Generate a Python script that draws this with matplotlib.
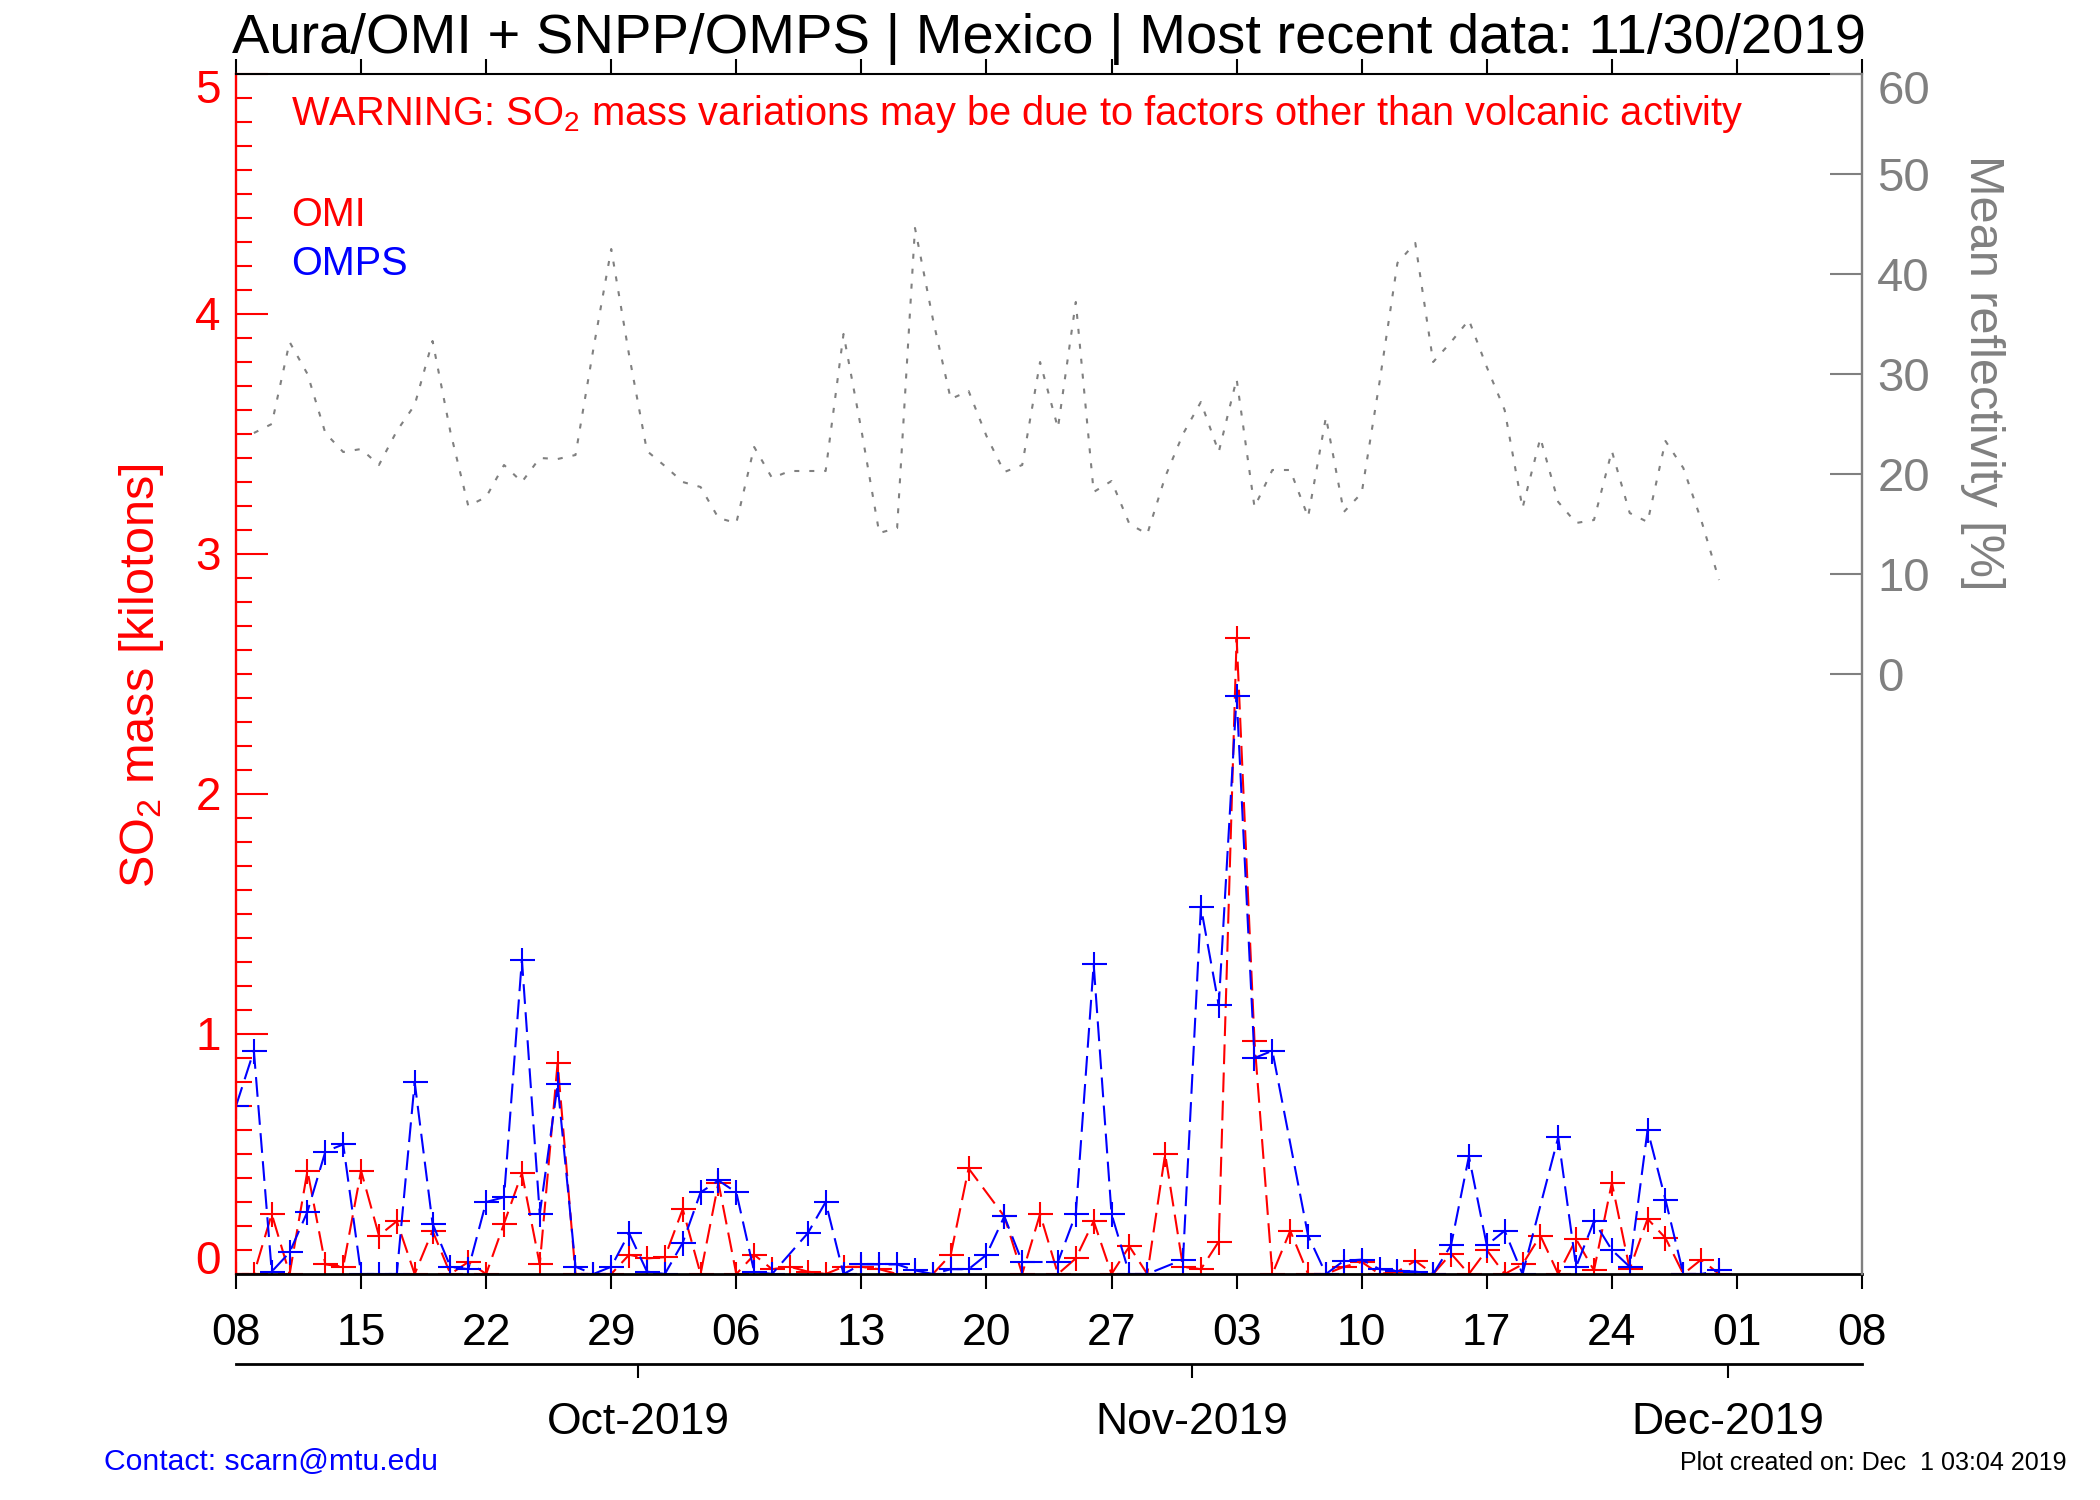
import numpy as np
import pandas as pd
import matplotlib
matplotlib.use('Agg')
import matplotlib.pyplot as plt
import matplotlib.dates as mdates
from matplotlib.ticker import FixedFormatter

plt.rcParams['font.family'] = ['Liberation Sans', 'DejaVu Sans']
plt.rcParams['mathtext.fontset'] = 'custom'
plt.rcParams['mathtext.rm'] = 'Liberation Sans'
plt.rcParams['mathtext.it'] = 'Liberation Sans:italic'
plt.rcParams['mathtext.bf'] = 'Liberation Sans:bold'
plt.rcParams['mathtext.default'] = 'regular'

# ---------------- data ----------------
so2_start = '2019-09-08'
nan = np.nan
omi_kt = [0, 0, 0.25, 0, 0.43, 0.04, 0.03, 0.43, 0.16, 0.22,
          0, 0.18, 0, 0.05, 0, 0.21, 0.42, 0.04, 0.88, 0,
          0, 0, 0.08, 0.065, 0.07, 0.27, 0, 0.38, 0, 0.08,
          0.02, 0.03, 0.01, 0, 0.03, 0.03, 0.02, 0, 0, 0,
          0.08, 0.44, nan, 0.24, 0, 0.25, 0, 0.065, 0.22, 0,
          0.115, 0, 0.50, 0.03, 0.02, 0.135, 2.65, 0.97, 0, 0.18,
          0, 0, 0.03, 0.05, 0, 0.01, 0.055, 0, 0.085, 0,
          0.10, 0, 0.04, 0.16, 0, 0.145, 0.015, 0.38, 0.02, 0.23,
          0.15, 0, 0.06, 0]
omps_kt = [0.70, 0.93, 0.01, 0.09, 0.26, 0.51, 0.54, 0, 0, 0,
           0.80, 0.21, 0.03, 0.02, 0.30, 0.32, 1.31, 0.25, 0.79, 0.03,
           0, 0.03, 0.17, 0.01, 0, 0.13, 0.34, 0.39, 0.34, 0.01,
           0, nan, 0.17, 0.30, 0, 0.04, 0.04, 0.04, 0.015, 0,
           0.02, 0.02, 0.08, 0.24, 0.05, nan, 0.05, 0.25, 1.29, 0.25,
           0, 0, nan, 0.06, 1.53, 1.12, 2.41, 0.90, 0.93, nan,
           0.16, 0, 0.055, 0.06, 0.02, 0.014, 0.01, 0, 0.12, 0.49,
           0.12, 0.18, 0, nan, 0.57, 0.03, 0.22, 0.10, 0.03, 0.60,
           0.31, 0, 0, 0.015]
refl_start = '2019-09-09'
reflectivity = [24.1, 25.0, 33.2, 30.0, 24.1, 22.2, 22.5, 20.9, 24.3, 26.9,
                33.3, 24.2, 16.8, 17.7, 20.9, 19.2, 21.6, 21.5, 21.9, 32.5,
                42.5, 31.9, 22.3, 20.8, 19.2, 18.7, 15.6, 15.1, 22.7, 19.6,
                20.3, 20.3, 20.3, 34.0, 24.4, 14.1, 14.6, 44.6, 35.5, 27.5,
                28.3, 23.8, 20.2, 20.9, 31.2, 24.6, 37.2, 18.2, 19.3, 15.0,
                14.0, 19.7, 24.0, 27.2, 22.2, 29.5, 16.7, 20.4, 20.4, 15.7,
                25.7, 16.2, 18.1, 29.2, 41.1, 43.1, 31.2, 33.2, 35.4, 30.7,
                26.4, 16.6, 23.6, 17.2, 15.1, 15.4, 22.3, 16.1, 15.2, 23.3,
                20.6, 15.4, 9.4]

x_start, x_end = '2019-09-08', '2019-12-08'
month_starts = ['2019-10-01', '2019-11-01', '2019-12-01']
so2_ticks = [0, 1, 2, 3, 4, 5]
refl_ticks = [0, 10, 20, 30, 40, 50, 60]
series_names = ['OMI', 'OMPS']
series_colors = ['red', 'blue']

title = 'Aura/OMI + SNPP/OMPS | Mexico | Most recent data: 11/30/2019'
warning = 'WARNING: SO$_2$ mass variations may be due to factors other than volcanic activity'
left_label = 'SO$_2$ mass [kilotons]'
right_label = 'Mean reflectivity [%]'
contact = 'Contact: scarn@mtu.edu'
created = 'Plot created on: Dec  1 03:04 2019'

GRAY = '#808080'
W, H = 2100, 1500

# ---------------- figure ----------------
fig = plt.figure(figsize=(21, 15), dpi=100, facecolor='white')
L, R, B, T = 236, 1862, 1274, 74
ax = fig.add_axes([L / W, 1 - B / H, (R - L) / W, (B - T) / H])
ax2 = ax.twinx()

xlo, xhi = pd.Timestamp(x_start), pd.Timestamp(x_end)

# SO2 series
so2_dates = pd.date_range(so2_start, periods=len(omi_kt), freq='D')
for vals, col in zip([omi_kt, omps_kt], series_colors):
    s = pd.Series(vals, index=so2_dates).dropna()
    ax.plot(s.index, s.values, color=col, lw=1.5, ls=(0, (9.5, 4)),
            marker='+', ms=18, mew=1.5, zorder=2)

# reflectivity
refl_dates = pd.date_range(refl_start, periods=len(reflectivity), freq='D')
ax2.plot(refl_dates, reflectivity, color=GRAY, lw=1.5, ls=(0, (2.4, 4.8)))

ax.set_xlim(xlo, xhi)
ax.set_ylim(so2_ticks[0], so2_ticks[-1])
ax2.set_ylim(-60, 60)

# spines
ax.spines['right'].set_visible(False)
ax.spines['left'].set_color('red')
ax.spines['left'].set_linewidth(1.7)
ax.spines['top'].set_linewidth(1.5)
ax.spines['bottom'].set_linewidth(2.0)
for sp in ['left', 'top', 'bottom']:
    ax2.spines[sp].set_visible(False)
ax2.spines['right'].set_color(GRAY)
ax2.spines['right'].set_linewidth(1.7)

# x axis (days)
week_ticks = pd.date_range(x_start, x_end, freq='7D')
ax.set_xticks(week_ticks)
ax.xaxis.set_major_formatter(mdates.DateFormatter('%d'))
ax.tick_params(axis='x', which='major', direction='out', length=10.8, width=1.5,
               top=True, labeltop=False, labelsize=32, pad=17, color='black')

# left y axis
ax.set_yticks(so2_ticks)
ax.set_yticks(np.arange(0, 5.0001, 0.1), minor=True)
ax.tick_params(axis='y', which='major', direction='in', length=23, width=1.5,
               color='red', labelleft=False, left=True, right=False)
ax.tick_params(axis='y', which='minor', direction='in', length=11.5, width=1.5,
               color='red', left=True, right=False)
ax.tick_params(axis='x', which='minor', bottom=False, top=False)

fs_l = 33
cap = 0.716 * fs_l
for v in so2_ticks:
    if v == so2_ticks[-1]:
        dy = -(cap - 3)
    elif v == so2_ticks[0]:
        dy = 0
    else:
        dy = -cap / 2
    ax.annotate(str(v), xy=(0, v), xycoords=('axes fraction', 'data'),
                xytext=(-11, dy), textcoords='offset points', ha='right',
                va='baseline', color='red', fontsize=fs_l, annotation_clip=False)

# right y axis
ax2.set_yticks(refl_ticks)
ax2.tick_params(axis='y', which='major', direction='in', length=23, width=1.5,
                color=GRAY, labelright=False, right=True, left=False)
fs_r = 34
cap_r = 0.716 * fs_r
for v in refl_ticks:
    dy = -(cap_r - 3) if v == refl_ticks[-1] else -cap_r / 2
    ax2.annotate(str(v), xy=(1, v), xycoords=('axes fraction', 'data'),
                 xytext=(11, dy), textcoords='offset points', ha='left',
                 va='baseline', color=GRAY, fontsize=fs_r, annotation_clip=False)

# month axis (ticks placed at the middle of the last day of previous month,
# as in the reference)
MY = 1364
axm = fig.add_axes([L / W, 1 - MY / H, (R - L) / W, 1e-6])
axm.set_xlim(xlo, xhi)
axm.patch.set_visible(False)
for sp in ['left', 'right', 'top']:
    axm.spines[sp].set_visible(False)
axm.spines['bottom'].set_linewidth(2.0)
axm.set_yticks([])
ms = pd.to_datetime(month_starts)
axm.set_xticks(ms - pd.Timedelta(hours=12))
axm.xaxis.set_major_formatter(FixedFormatter([d.strftime('%b-%Y') for d in ms]))
axm.tick_params(axis='x', which='major', direction='out', length=10, width=1.5,
                labelsize=32, pad=17)
axm.tick_params(axis='x', which='minor', bottom=False)

# texts
fig.text(1049 / W, 1 - 53 / H, title, ha='center', va='baseline', fontsize=40.4,
         color='black')
fig.text(291 / W, 1 - 125 / H, warning, ha='left', va='baseline', fontsize=28.7,
         color='red')
fig.text(291 / W, 1 - 226 / H, series_names[0], ha='left', va='baseline',
         fontsize=28.5, color=series_colors[0])
fig.text(291 / W, 1 - 275 / H, series_names[1], ha='left', va='baseline',
         fontsize=28.5, color=series_colors[1])
fig.text(141 / W, 1 - 676 / H, left_label, rotation=90, ha='center', va='center',
         fontsize=35, color='red')
fig.text(1983 / W, 1 - 373 / H, right_label, rotation=270, ha='center',
         va='center', fontsize=35, color=GRAY)
fig.text(104 / W, 1 - 1470 / H, contact, ha='left', va='baseline', fontsize=21.7,
         color='blue')
fig.text(2066 / W, 1 - 1470 / H, created, ha='right', va='baseline', fontsize=18,
         color='black')

fig.savefig('out.png', dpi=100, facecolor='white')
